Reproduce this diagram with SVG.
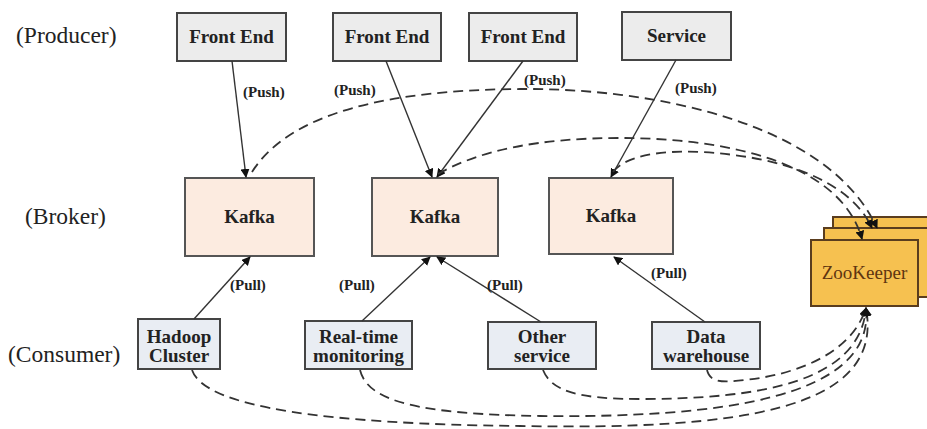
<svg xmlns="http://www.w3.org/2000/svg" width="927" height="429" viewBox="0 0 927 429">
<defs>
<style>
.lbl{font-family:"Liberation Serif","Times New Roman",serif;font-size:23.5px;fill:#222}
.bt{font-family:"Liberation Serif","Times New Roman",serif;font-size:19px;font-weight:bold;fill:#222;text-anchor:middle}
.sm{font-family:"Liberation Serif","Times New Roman",serif;font-size:15px;font-weight:bold;fill:#222}
.prod{fill:#ececec;stroke:#444;stroke-width:2}
.kafka{fill:#fcebe0;stroke:#555;stroke-width:2}
.cons{fill:#e9edf3;stroke:#444;stroke-width:2}
.zk{fill:#f6c150;stroke:#5a3d1e;stroke-width:2}
.zt{font-family:"Liberation Serif","Times New Roman",serif;font-size:19px;fill:#5e3510;text-anchor:middle}
.solid{fill:none;stroke:#333;stroke-width:1.4;marker-end:url(#ah)}
.dash{fill:none;stroke:#333;stroke-width:1.8;stroke-dasharray:10 6;marker-end:url(#ah)}
</style>
<marker id="ah" viewBox="0 0 10 10" refX="9" refY="5" markerWidth="9" markerHeight="9" markerUnits="userSpaceOnUse" orient="auto">
<path d="M0,0 L10,5 L0,10 z" fill="#111"/>
</marker>
</defs>
<rect width="927" height="429" fill="#fff"/>

<text class="lbl" x="16" y="43">(Producer)</text>
<text class="lbl" x="25" y="224">(Broker)</text>
<text class="lbl" x="8" y="362">(Consumer)</text>

<g id="fe1"><rect class="prod" x="177" y="13" width="109" height="48"/><text class="bt" x="231.5" y="43">Front End</text></g>
<g id="fe2"><rect class="prod" x="333" y="13" width="108" height="48"/><text class="bt" x="387" y="43">Front End</text></g>
<g id="fe3"><rect class="prod" x="469" y="13" width="108" height="48"/><text class="bt" x="523" y="43">Front End</text></g>
<g id="service"><rect class="prod" x="622" y="12" width="109" height="48"/><text class="bt" x="676.5" y="42">Service</text></g>

<g id="kafka1"><rect class="kafka" x="185" y="178" width="129" height="78"/><text class="bt" x="249.5" y="223">Kafka</text></g>
<g id="kafka2"><rect class="kafka" x="372" y="178" width="126" height="78"/><text class="bt" x="435" y="223">Kafka</text></g>
<g id="kafka3"><rect class="kafka" x="549" y="178" width="124" height="76"/><text class="bt" x="611" y="222">Kafka</text></g>

<g id="hadoop"><rect class="cons" x="138" y="319" width="82" height="50"/><text class="bt" x="179" y="343">Hadoop</text><text class="bt" x="179" y="362">Cluster</text></g>
<g id="realtime"><rect class="cons" x="305" y="321" width="107" height="48"/><text class="bt" x="358.5" y="343">Real-time</text><text class="bt" x="358.5" y="362">monitoring</text></g>
<g id="other"><rect class="cons" x="488" y="322" width="108" height="47"/><text class="bt" x="542" y="343">Other</text><text class="bt" x="542" y="362">service</text></g>
<g id="dwh"><rect class="cons" x="652" y="322" width="108" height="47"/><text class="bt" x="706" y="343">Data</text><text class="bt" x="706" y="362">warehouse</text></g>

<g id="zookeeper">
<rect class="zk" x="833" y="217" width="100" height="68"/>
<rect class="zk" x="824" y="228" width="110" height="69"/>
<rect class="zk" x="811" y="240" width="107" height="66"/>
<text class="zt" x="864.5" y="279">ZooKeeper</text>
</g>

<g id="connectors">
<path class="solid" d="M232,61 L246,177"/>
<path class="solid" d="M386,61 L432,177"/>
<path class="solid" d="M523,61 L437,177"/>
<path class="solid" d="M676,60 L611,177"/>
<path class="solid" d="M194,319 L250,257"/>
<path class="solid" d="M362,321 L430,257"/>
<path class="solid" d="M541,322 L437,257"/>
<path class="solid" d="M705,322 L614,257"/>
<path class="dash" d="M252,172 C290,112 390,90 520,89 C660,88 830,125 877,228"/>
<path class="dash" d="M438,174 C480,150 540,138 620,138 C720,138 840,160 862,239"/>
<path class="dash" d="M613,172 C625,156 660,150 700,152 C780,156 850,180 872,228"/>
<path class="dash" d="M192,370 C205,408 330,424 520,426 C740,430 885,410 866,308"/>
<path class="dash" d="M360,370 C368,402 420,414 540,416 C720,418 875,398 866,308"/>
<path class="dash" d="M543,370 C552,392 580,399 640,399 C760,399 860,382 866,308"/>
<path class="dash" d="M707,370 C710,382 720,383 745,380 C800,374 852,352 866,308"/>
</g>

<text class="sm" x="243" y="97">(Push)</text>
<text class="sm" x="334" y="95">(Push)</text>
<text class="sm" x="524" y="85">(Push)</text>
<text class="sm" x="675" y="93">(Push)</text>
<text class="sm" x="230" y="290">(Pull)</text>
<text class="sm" x="339" y="290">(Pull)</text>
<text class="sm" x="487" y="290">(Pull)</text>
<text class="sm" x="651" y="278">(Pull)</text>
</svg>
